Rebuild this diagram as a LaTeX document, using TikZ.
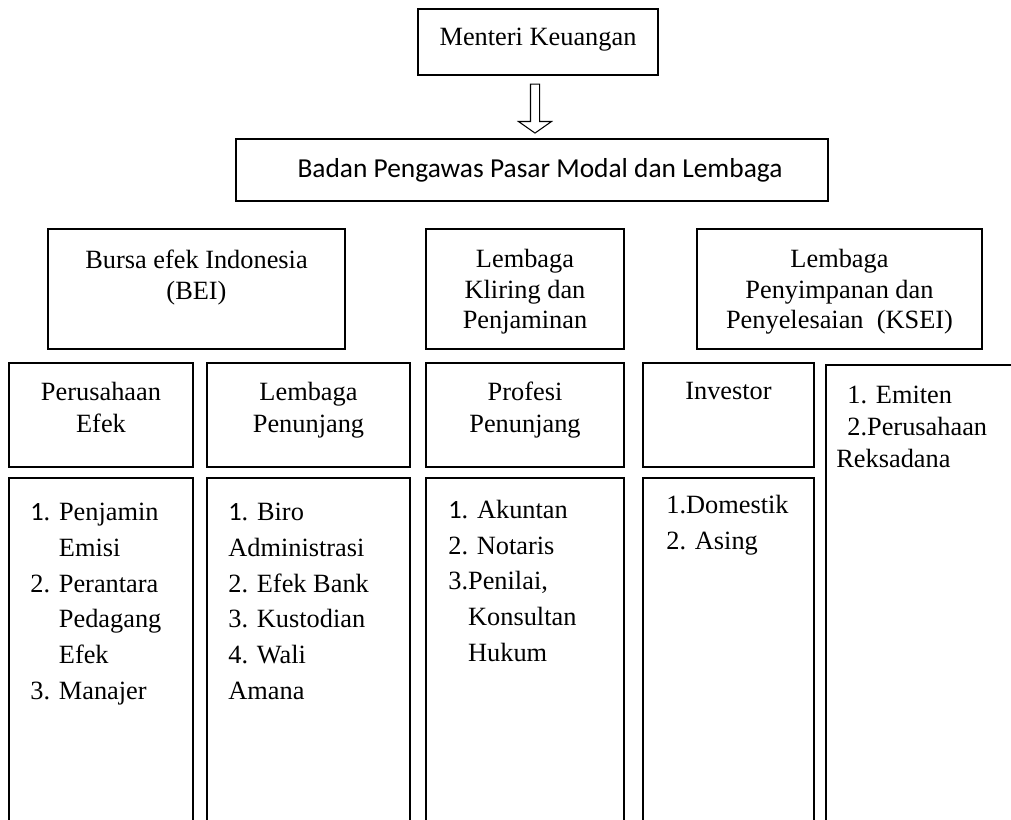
\documentclass[tikz,border=0pt]{standalone}
\usepackage{fontspec}
\setmainfont{Liberation Serif}
\newfontfamily\calibri{Carlito}
\usetikzlibrary{shapes.arrows,fit,calc}

\begin{document}
\begin{tikzpicture}[x=0.02cm, y=-0.02cm,
	box/.style={draw=black, line width=1pt, inner sep=0pt},
	head/.style={inner sep=0pt, align=center, anchor=north, font=\fontsize{15}{17.4}\selectfont},
	sub/.style={inner sep=0pt, align=center, anchor=north, font=\fontsize{15}{18.2}\selectfont},
	list/.style={inner sep=0pt, align=left, anchor=north west, font=\fontsize{15}{20.3}\selectfont}]

	\useasboundingbox (0,0) rectangle (1011,820);
	\clip (0,0) rectangle (1011,820);

	% top
	\draw (0,0) node[box, fit={(418,9) (658,75)}](mk){};
	\draw (538,28) node[head](mkt){Menteri Keuangan};
	\draw (0,0) node[box, fit={(236,139) (828,201)}](bp){};
	\draw (540,170) node[inner sep=0pt, font=\calibri\fontsize{15.6}{18}\selectfont](bpt){Badan Pengawas Pasar Modal dan Lembaga};
	\draw ($(mk.south)!0.5!(bp.north)$) node[single arrow, draw=black, line width=0.6pt,
		inner xsep=0pt, inner ysep=0.08cm, rotate=-90, minimum height=0.98cm, minimum width=0.64cm,
		single arrow head extend=0.24cm, single arrow tip angle=110](arr){};

	% lembaga
	\draw (0,0) node[box, fit={(48,229) (345,349)}](bei){};
	\draw (196.5,250) node[head](beit){Bursa efek Indonesia\\(BEI)};
	\draw (0,0) node[box, fit={(426,229) (624,349)}](kpei){};
	\draw (525,249) node[head](kpeit){Lembaga\\Kliring dan\\Penjaminan};
	\draw (0,0) node[box, fit={(697,229) (982,349)}](ksei){};
	\draw (839.5,249) node[head](kseit){Lembaga\\Penyimpanan dan\\Penyelesaian~ (KSEI)};

	% pelaku
	\draw (0,0) node[box, fit={(9,363) (193,467)}](pe){};
	\draw (101,382) node[sub](pet){Perusahaan\\Efek};
	\draw (0,0) node[box, fit={(207,363) (410,467)}](lp){};
	\draw (308.5,382) node[sub](lpt){Lembaga\\Penunjang};
	\draw (0,0) node[box, fit={(426,363) (624,467)}](pp){};
	\draw (525,382) node[sub](ppt){Profesi\\Penunjang};
	\draw (0,0) node[box, fit={(643,363) (814,467)}](inv){};
	\draw (728.5,382) node[sub](invt){Investor};
	\draw (0,0) node[box, fit={(826,365) (1030,840)}](emt){};
	\draw (836,386) node[list, font=\fontsize{15}{18.2}\selectfont](emtl){\hspace*{0.22cm}1. Emiten\\\hspace*{0.22cm}2.Perusahaan\\Reksadana};

	% rincian
	\draw (0,0) node[box, fit={(9,478) (193,840)}](pel){};
	\draw (30,503) node[list](pell){{\calibri 1}. Penjamin\\\phantom{2. }Emisi\\2. Perantara\\\phantom{2. }Pedagang\\\phantom{2. }Efek\\3. Manajer};
	\draw (0,0) node[box, fit={(207,478) (410,840)}](lpl){};
	\draw (228,503) node[list](lpll){{\calibri 1}. Biro\\Administrasi\\2. Efek Bank\\3. Kustodian\\4. Wali\\Amana};
	\draw (0,0) node[box, fit={(426,478) (624,840)}](ppl){};
	\draw (448,500) node[list](ppll){{\calibri 1}. Akuntan\\2. Notaris\\3.Penilai,\\\phantom{3.}Konsultan\\\phantom{3.}Hukum};
	\draw (0,0) node[box, fit={(643,478) (814,840)}](invl){};
	\draw (666,495) node[list](invll){1.Domestik\\2. Asing};
\end{tikzpicture}
\end{document}
